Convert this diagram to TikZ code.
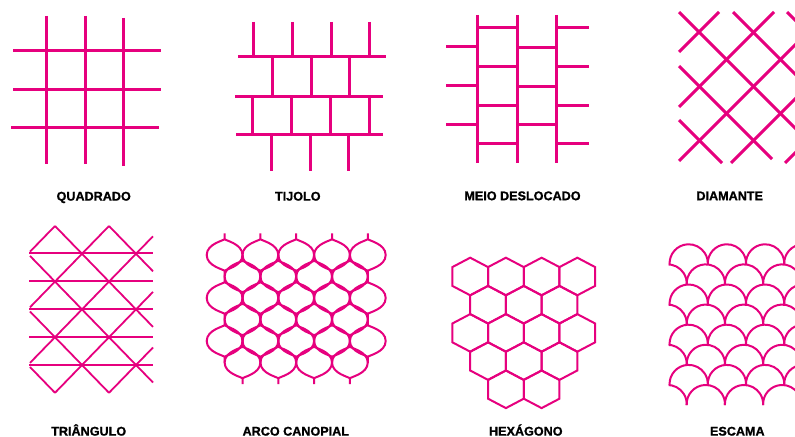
\documentclass[tikz,border=0pt]{standalone}
\usepackage{fontspec}
\setmainfont[BoldFeatures={FakeBold=1.2}]{Liberation Sans}
\definecolor{mag}{RGB}{230,0,126}
\newcommand\ogeecell[2]{%
  \draw[medium] ({#1},{#2-21.5}) -- ({#1},{#2-16})
    .. controls ({#1},{#2-14.5}) and ({#1+17.9},{#2-11.5}) .. ({#1+17.9},{#2})
    .. controls ({#1+17.9},{#2+11.5}) and ({#1},{#2+14.5}) .. ({#1},{#2+16})
    -- ({#1},{#2+21.5}) -- ({#1},{#2+16})
    .. controls ({#1},{#2+14.5}) and ({#1-17.9},{#2+11.5}) .. ({#1-17.9},{#2})
    .. controls ({#1-17.9},{#2-11.5}) and ({#1},{#2-14.5}) .. ({#1},{#2-16}) -- cycle;}
\newcommand\hexcell[2]{%
  \draw[medium,line join=miter] ({#1},{#2-18.8}) -- ++(17.85,9.4) -- ++(0,18.8)
    -- ++(-17.85,9.4) -- ++(-17.85,-9.4) -- ++(0,-18.8) -- cycle;}
\newcommand\scalearc[2]{%
  \draw[medium] ({#1-19.1},{#2+1}) arc[start angle=183,end angle=-3,radius=19.13bp];}
\begin{document}
\begin{tikzpicture}[x=1bp,y=-1bp,
  heavy/.style={draw=mag,line width=3bp},
  medium/.style={draw=mag,line width=2bp},
  light/.style={draw=mag,line width=1.8bp},
  lightbar/.style={fill=mag},
  pname/.style={font=\bfseries\fontsize{12.6bp}{14bp}\selectfont,text=black,inner sep=0pt,anchor=base}]
\path[use as bounding box,fill=white] (0,0) rectangle (795,437);
\clip (0,0) rectangle (795,437);

% ---------- QUADRADO ----------
\draw[heavy] (46,16) -- (46,164);
\draw[heavy] (85,16) -- (85,164);
\draw[heavy] (123,18) -- (123,166);
\draw[heavy] (13,51) -- (161,51);
\draw[heavy] (13,90) -- (161,90);
\draw[heavy] (11,128) -- (159,128);

% ---------- TIJOLO ----------
\draw[heavy] (238,57) -- (386,57);
\draw[heavy] (235,97) -- (383,97);
\draw[heavy] (236,135) -- (383,135);
\foreach \x in {253,292,331,369} \draw[heavy] (\x,22) -- (\x,57);
\foreach \x in {272,311,349} \draw[heavy] (\x,57) -- (\x,97);
\foreach \x in {252,291,330,369} \draw[heavy] (\x,97) -- (\x,135);
\foreach \x in {271,310,348} \draw[heavy] (\x,135) -- (\x,171);

% ---------- MEIO DESLOCADO ----------
\foreach \x in {477,517,556} \draw[heavy] (\x,15) -- (\x,163);
\foreach \y in {47,86,125} \draw[heavy] (446,\y) -- (477,\y);
\foreach \y in {28,67,106,144} \draw[heavy] (477,\y) -- (517,\y);
\foreach \y in {48,87,125} \draw[heavy] (517,\y) -- (556,\y);
\foreach \y in {28,67,106,144} \draw[heavy] (556,\y) -- (589,\y);

% ---------- DIAMANTE ----------
\draw[heavy] (679,120) -- (722,163);
\draw[heavy] (679,66) -- (772,159);
\draw[heavy] (679,12) -- (800,133);
\draw[heavy] (733,12) -- (800,79);
\draw[heavy] (787,12) -- (800,25);
\draw[heavy] (679,52) -- (719,12);
\draw[heavy] (679,107) -- (774,12);
\draw[heavy] (679,161) -- (800,40);
\draw[heavy] (731,163) -- (800,94);
\draw[heavy] (785,163) -- (800,148);

% ---------- TRIANGULO ----------
\foreach \y in {253,281,309,337,365} \fill[lightbar] (29,{\y-1}) rectangle (153,{\y+1});
\draw[light] (30,255.9) -- (153,382.5);
\draw[light] (55,226) -- (153,326.9);
\draw[light] (109,226) -- (153,271.3);
\draw[light] (30,311.5) -- (109,392.8);
\draw[light] (30,367) -- (55,392.8);
\draw[light] (55,226) -- (30,251.7);
\draw[light] (109,226) -- (30,307.3);
\draw[light] (153,236.3) -- (30,362.9);
\draw[light] (153,291.9) -- (55,392.8);
\draw[light] (153,347.5) -- (109,392.8);

% ---------- ARCO CANOPIAL ----------
\foreach \cy in {255,298,341}
  \foreach \cx in {224.6,260.4,296.2,332,367.8} {\ogeecell{\cx}{\cy}}
\foreach \cy in {276.5,319.5,362.5}
  \foreach \cx in {242.5,278.3,314.1,349.9} {\ogeecell{\cx}{\cy}}

% ---------- HEXAGONO ----------
\foreach \cy in {276.5,332.9}
  \foreach \cx in {470.2,505.9,541.6,577.3} {\hexcell{\cx}{\cy}}
\foreach \cy in {304.7,361.1}
  \foreach \cx in {488.05,523.75,559.45} {\hexcell{\cx}{\cy}}
\foreach \cx in {505.9,541.6} {\hexcell{\cx}{389.3}}

% ---------- ESCAMA ----------
\begin{scope}
  \clip (668.6,200) rectangle (800,420);
  \foreach \cy in {263.4,303.6,343.8,384.0}
    \foreach \cx in {688.7,726.9,765.1,803.3} {\scalearc{\cx}{\cy}}
  \foreach \cy in {283.5,323.7,363.9,404.1}
    \foreach \cx in {667.6,705.8,744,782.2} {\scalearc{\cx}{\cy}}
\end{scope}

% ---------- labels ----------
\node[pname] (lq) at (93.7,200.6) {QUADRADO};
\node[pname] (lt) at (297.8,200.6) {TIJOLO};
\node[pname] (lm) at (522.5,200.2) {MEIO DESLOCADO};
\node[pname] (ld) at (729.7,200.2) {DIAMANTE};
\node[pname] (ltr) at (88.7,435.6) {TRIÂNGULO};
\node[pname] (la) at (295.8,435.6) {ARCO CANOPIAL};
\node[pname] (lh) at (525.8,435.6) {HEXÁGONO};
\node[pname] (le) at (737.3,435.6) {ESCAMA};
\end{tikzpicture}
\end{document}
